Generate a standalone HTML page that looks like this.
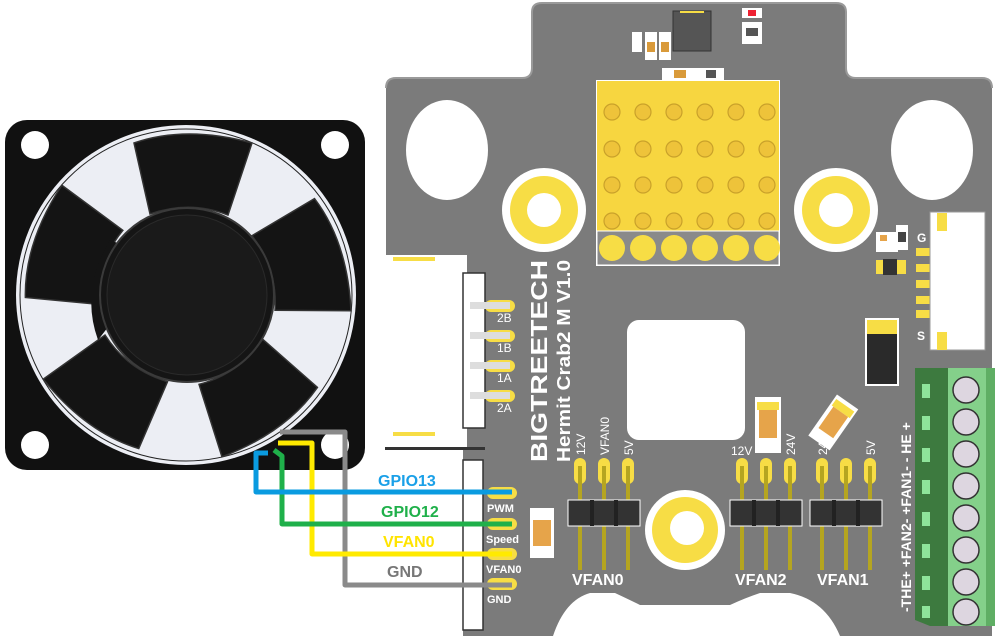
<!DOCTYPE html>
<html><head><meta charset="utf-8"><style>
html,body{margin:0;padding:0;background:#fff;}
svg{display:block;font-family:"Liberation Sans",sans-serif;}
</style></head><body>
<svg width="1000" height="636" viewBox="0 0 1000 636" xmlns="http://www.w3.org/2000/svg">
<!-- board -->
<path d="M386 88 Q386 78 396 78 L522 78 Q532 78 532 68 L532 12 Q532 3 542 3 L836 3 Q846 3 846 12 L846 68 Q846 78 856 78 L982 78 Q992 78 992 88 L992 636 L386 636 Z" fill="#7b7b7b"/>
<path d="M386 88 Q386 78 396 78 L522 78 Q532 78 532 68 L532 12 Q532 3 542 3 L836 3 Q846 3 846 12 L846 68 Q846 78 856 78 L982 78 Q992 78 992 88" fill="none" stroke="#9a9a9a" stroke-width="2"/>
<!-- bottom cutouts -->
<path d="M553 636 Q565 600 590 593 L615 593 Q630 600 640 605 L730 605 Q745 598 760 593 L790 593 Q825 600 840 636 Z" fill="#fff"/>
<!-- holes -->
<ellipse cx="447" cy="150" rx="41" ry="50" fill="#fff"/>
<ellipse cx="932" cy="150" rx="41" ry="50" fill="#fff"/>
<circle cx="544" cy="210" r="42" fill="#fff"/><circle cx="544" cy="210" r="34" fill="#f7dd45"/><circle cx="544" cy="210" r="17" fill="#fff"/>
<circle cx="836" cy="210" r="42" fill="#fff"/><circle cx="836" cy="210" r="34" fill="#f7dd45"/><circle cx="836" cy="210" r="17" fill="#fff"/>
<circle cx="685" cy="530" r="40" fill="#fff"/><circle cx="685" cy="530" r="33" fill="#f7dd45"/><circle cx="687" cy="528" r="17" fill="#fff"/>
<!-- top IC -->
<rect x="673" y="11" width="38" height="40" fill="#555" stroke="#333"/>
<rect x="680" y="11" width="24" height="2" fill="#f7dd45"/>
<rect x="632" y="32" width="10" height="20" fill="#fff"/><rect x="645" y="32" width="12" height="28" fill="#fff"/><rect x="659" y="32" width="12" height="28" fill="#fff"/>
<rect x="647" y="42" width="8" height="10" fill="#d99a3a"/><rect x="661" y="42" width="8" height="10" fill="#d99a3a"/>
<rect x="662" y="68" width="62" height="12" fill="#fff"/><rect x="674" y="70" width="12" height="8" fill="#d99a3a"/><rect x="706" y="70" width="10" height="8" fill="#555"/>
<rect x="742" y="8" width="20" height="10" fill="#fff"/><rect x="748" y="10" width="8" height="6" fill="#e23"/>
<rect x="742" y="22" width="20" height="22" fill="#fff"/><rect x="746" y="28" width="12" height="8" fill="#555"/>
<!-- yellow pad array -->
<rect x="596" y="80" width="184" height="186" fill="#fff"/>
<rect x="597" y="81" width="182" height="182" fill="#f7d640"/>
<g fill="#eec33a" stroke="#c9a12a" stroke-width="1.2">
<g id="row"><circle cx="612" cy="112" r="8"/><circle cx="643" cy="112" r="8"/><circle cx="674" cy="112" r="8"/><circle cx="705" cy="112" r="8"/><circle cx="736" cy="112" r="8"/><circle cx="767" cy="112" r="8"/></g>
<use href="#row" y="37"/><use href="#row" y="73"/><use href="#row" y="109"/>
</g>
<rect x="597" y="231" width="182" height="34" fill="#8a8a8a" stroke="#fff"/>
<g fill="#f7dd45"><circle cx="612" cy="248" r="13"/><circle cx="643" cy="248" r="13"/><circle cx="674" cy="248" r="13"/><circle cx="705" cy="248" r="13"/><circle cx="736" cy="248" r="13"/><circle cx="767" cy="248" r="13"/></g>
<!-- center square -->
<rect x="627" y="320" width="118" height="120" rx="12" fill="#fff"/>
<!-- left 4-pin connector -->
<rect x="385" y="255" width="82" height="192" fill="#fff"/>
<rect x="393" y="257" width="42" height="4" fill="#f7dd45"/>
<rect x="393" y="432" width="42" height="4" fill="#f7dd45"/>
<rect x="463" y="273" width="22" height="155" fill="#fff" stroke="#333" stroke-width="1.5"/>
<g fill="#f7dd45"><rect x="485" y="300" width="30" height="12" rx="6"/><rect x="485" y="330" width="30" height="12" rx="6"/><rect x="485" y="360" width="30" height="12" rx="6"/><rect x="485" y="390" width="30" height="12" rx="6"/></g>
<g fill="#ddd"><rect x="470" y="302" width="40" height="7"/><rect x="470" y="332" width="40" height="7"/><rect x="470" y="362" width="40" height="7"/><rect x="470" y="392" width="40" height="7"/></g>
<g fill="#fff" font-size="12"><text x="497" y="322">2B</text><text x="497" y="352">1B</text><text x="497" y="382">1A</text><text x="497" y="412">2A</text></g>
<!-- lower connector -->
<rect x="385" y="450" width="78" height="186" fill="#fff"/>
<rect x="385" y="447" width="100" height="3" fill="#333"/>
<rect x="463" y="460" width="20" height="170" fill="#fff" stroke="#333" stroke-width="1.5"/>
<g fill="#f7dd45"><rect x="487" y="487" width="30" height="12" rx="6"/><rect x="487" y="518" width="30" height="12" rx="6"/><rect x="487" y="548" width="30" height="12" rx="6"/><rect x="487" y="578" width="30" height="12" rx="6"/></g>
<g fill="#fff" font-size="11" font-weight="bold"><text x="487" y="512">PWM</text><text x="486" y="543">Speed</text><text x="486" y="573">VFAN0</text><text x="487" y="603">GND</text></g>
<!-- small cap near Speed -->
<rect x="530" y="508" width="24" height="50" fill="#fff"/><rect x="533" y="520" width="18" height="26" fill="#e6a44a"/>
<!-- text vertical -->
<text transform="translate(547,462) rotate(-90)" fill="#fff" font-size="23" font-weight="bold" textLength="202" lengthAdjust="spacingAndGlyphs">BIGTREETECH</text>
<text transform="translate(570,462) rotate(-90)" fill="#fff" font-size="18" font-weight="bold" textLength="202" lengthAdjust="spacingAndGlyphs">Hermit Crab2 M V1.0</text>
<!-- headers -->
<g id="hdr">
<g fill="#f7dd45"><rect x="574" y="458" width="12" height="26" rx="6"/><rect x="598" y="458" width="12" height="26" rx="6"/><rect x="622" y="458" width="12" height="26" rx="6"/></g>
<g fill="#b5a520"><rect x="578" y="466" width="4" height="104"/><rect x="602" y="466" width="4" height="104"/><rect x="626" y="466" width="4" height="104"/></g>
<rect x="568" y="500" width="72" height="26" fill="#333" stroke="#fff"/>
<rect x="590" y="500" width="4" height="26" fill="#222"/><rect x="614" y="500" width="4" height="26" fill="#222"/>
</g>
<use href="#hdr" x="162"/>
<use href="#hdr" x="242"/>
<g fill="#fff" font-size="12">
<text transform="translate(585,455) rotate(-90)">12V</text>
<text transform="translate(609,455) rotate(-90)">VFAN0</text>
<text transform="translate(633,455) rotate(-90)">5V</text>
<text x="731" y="455">12V</text>
<text transform="translate(795,455) rotate(-90)">24V</text>
<text transform="translate(827,455) rotate(-90)">24V</text>
<text transform="translate(875,455) rotate(-90)">5V</text>
</g>
<g fill="#fff" font-size="16" font-weight="bold"><text x="572" y="585">VFAN0</text><text x="735" y="585">VFAN2</text><text x="817" y="585">VFAN1</text></g>
<!-- caps -->
<rect x="755" y="397" width="26" height="56" fill="#fff"/><rect x="757" y="402" width="22" height="8" fill="#f7dd45"/><rect x="759" y="410" width="18" height="28" fill="#e6a44a"/>
<g transform="rotate(35 835 420)"><rect x="822" y="398" width="26" height="50" fill="#fff"/><rect x="824" y="402" width="22" height="8" fill="#f7dd45"/><rect x="826" y="410" width="18" height="26" fill="#e6a44a"/></g>
<!-- diode -->
<rect x="865" y="318" width="34" height="68" fill="#fff"/><rect x="867" y="320" width="30" height="14" fill="#f7dd45"/><rect x="867" y="334" width="30" height="50" fill="#2a2a2a"/>
<!-- right small parts -->
<rect x="876" y="232" width="22" height="20" fill="#fff"/><rect x="880" y="235" width="7" height="6" fill="#e6a44a"/>
<rect x="896" y="225" width="12" height="25" fill="#fff"/><rect x="898" y="232" width="8" height="10" fill="#444"/>
<rect x="876" y="260" width="30" height="14" fill="#f7dd45"/><rect x="883" y="259" width="14" height="16" fill="#333"/>
<g fill="#f7dd45"><rect x="916" y="248" width="14" height="8"/><rect x="916" y="264" width="14" height="8"/><rect x="916" y="280" width="14" height="8"/><rect x="916" y="296" width="14" height="8"/><rect x="916" y="310" width="14" height="8"/></g>
<text x="917" y="242" fill="#fff" font-size="12" font-weight="bold">G</text>
<text x="917" y="340" fill="#fff" font-size="12" font-weight="bold">S</text>
<rect x="930" y="212" width="55" height="138" fill="#fff" stroke="#999"/>
<rect x="937" y="213" width="10" height="18" fill="#f7dd45"/><rect x="937" y="332" width="10" height="18" fill="#f7dd45"/>
<!-- terminal block -->
<polygon points="915,368 995,368 995,626 930,626 915,620" fill="#3d7a3f"/>
<rect x="948" y="368" width="46" height="258" fill="#84d08a"/>
<rect x="986" y="368" width="9" height="258" fill="#5fae64"/>
<g fill="#8ee49a"><rect x="922" y="384" width="8" height="14"/><rect x="922" y="416" width="8" height="14"/><rect x="922" y="448" width="8" height="14"/><rect x="922" y="480" width="8" height="14"/><rect x="922" y="512" width="8" height="14"/><rect x="922" y="544" width="8" height="14"/><rect x="922" y="576" width="8" height="14"/><rect x="922" y="606" width="8" height="12"/></g>
<g fill="#ddd6e0" stroke="#333" stroke-width="1.5"><circle cx="966" cy="390" r="13"/><circle cx="966" cy="422" r="13"/><circle cx="966" cy="454" r="13"/><circle cx="966" cy="486" r="13"/><circle cx="966" cy="518" r="13"/><circle cx="966" cy="550" r="13"/><circle cx="966" cy="582" r="13"/><circle cx="966" cy="612" r="13"/></g>
<text transform="translate(911,612) rotate(-90)" fill="#fff" font-size="14" font-weight="bold">-THE+ +FAN2- +FAN1- - HE +</text>
<!-- fan -->
<rect x="5" y="120" width="360" height="350" rx="22" fill="#111"/>
<circle cx="186" cy="295" r="170" fill="#eceef4"/>
<circle cx="186" cy="295" r="166" fill="none" stroke="#222" stroke-width="1"/>
<g fill="#141414" stroke="#333" stroke-width="1.5">
<path id="bl" d="M150 214 L134 143 Q186 125 252 143 L228 215 Q190 200 150 214 Z"/>
<use href="#bl" transform="rotate(72 186 295)"/>
<use href="#bl" transform="rotate(144 186 295)"/>
<use href="#bl" transform="rotate(216 186 295)"/>
<use href="#bl" transform="rotate(288 186 295)"/>
</g>
<path d="M98 340 Q80 290 110 240 L160 260 Z" fill="#141414"/>
<circle cx="187" cy="295" r="87" fill="#151515" stroke="#3a3a3a" stroke-width="2"/>
<circle cx="187" cy="295" r="80" fill="#1a1a1a" stroke="#2a2a2a"/>
<g fill="#fff"><circle cx="35" cy="145" r="14"/><circle cx="335" cy="145" r="14"/><circle cx="35" cy="445" r="14"/><circle cx="335" cy="445" r="14"/></g>
<!-- wires -->
<g fill="none" stroke-width="5" stroke-linejoin="round">
<path d="M280 432 L345 432 L345 585 L512 585" stroke="#8a8a8a"/>
<path d="M278 443 L312 443 L312 554 L512 554" stroke="#ffea00"/>
<path d="M274 450 L282 456 L282 524 L512 524" stroke="#1fb04a"/>
<path d="M268 453 L256 453 L256 492 L512 492" stroke="#0a9be0"/>
</g>
<g font-size="16" font-weight="bold"><text x="378" y="486" fill="#1aa0e8">GPIO13</text><text x="381" y="517" fill="#1fb04a">GPIO12</text><text x="383" y="547" fill="#ffe400">VFAN0</text><text x="387" y="577" fill="#777">GND</text></g>
</svg>
</body></html>
